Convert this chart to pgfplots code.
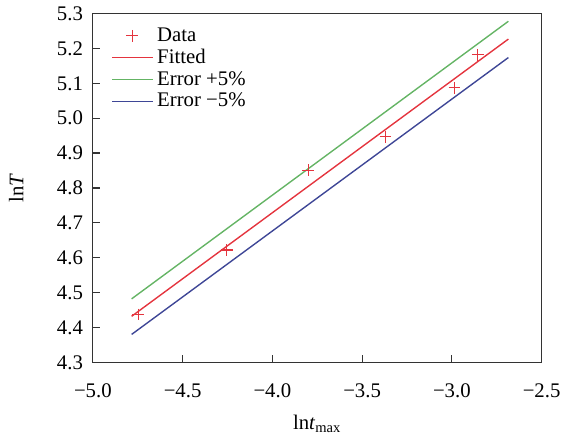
\documentclass[border=0pt]{standalone}
\usepackage{pgfplots}
\pgfplotsset{compat=1.18}
\usepackage{fontspec}
\setmainfont{Liberation Serif}
\definecolor{cred}{RGB}{228,52,62}
\definecolor{cgreen}{RGB}{100,180,100}
\definecolor{cblue}{RGB}{62,70,150}
\pgfplotsset{lineleg/.style={legend image code/.code={\draw[#1, line width=0.7pt] (0,0) -- (0.72cm,0);}}}
\pgfplotsset{markleg/.style={legend image code/.code={\draw[#1, line width=0.55pt] plot[mark=+, mark size=3pt] coordinates {(0.36cm,0)};}}}
\begin{document}
\begin{tikzpicture}
\begin{axis}[
  scale only axis,
  width=227pt, height=176.4pt,
  xmin=-5, xmax=-2.5, ymin=4.3, ymax=5.3,
  xtick={-5,-4.5,-4,-3.5,-3,-2.5},
  xticklabels={−5.0,−4.5,−4.0,−3.5,−3.0,−2.5},
  ytick={4.3,4.4,4.5,4.6,4.7,4.8,4.9,5.0,5.1,5.2,5.3},
  yticklabels={4.3,4.4,4.5,4.6,4.7,4.8,4.9,5.0,5.1,5.2,5.3},
  xtick pos=bottom, ytick pos=left,
  tick align=inside,
  major tick length=3.5pt,
  axis line style={line width=0.6pt, black!80},
  every tick/.style={line width=0.6pt, black!80},
  tick label style={font=\fontsize{10.5}{12}\selectfont},
  yticklabel style={xshift=-1.5pt},
  xticklabel style={yshift=-7.5pt},
  label style={font=\fontsize{10.5}{12}\selectfont},
  xlabel={ln\textit{t}\textsubscript{max}},
  xlabel style={yshift=-1.5pt},
  ylabel={ln\textit{T}},
  ylabel style={inner ysep=4.5pt, yshift=9pt},
  legend cell align=left,
  legend style={draw=none, fill=none, at={(0.036,0.978)}, anchor=north west,
    font=\fontsize{10.5}{12}\selectfont, row sep=-1.5pt, inner sep=1pt},
]
\addplot[only marks, mark=+, mark size=3pt, color=cred, mark options={color=cred}, line width=0.55pt, markleg=cred] coordinates {
  (-4.747,4.437) (-4.255,4.622) (-3.80,4.851) (-3.370,4.947) (-2.985,5.087) (-2.856,5.182)
};
\addlegendentry{Data}
\addplot[cred, line width=0.7pt, lineleg=cred] coordinates {(-4.784,4.432) (-2.685,5.227)};
\addlegendentry{Fitted}
\addplot[cgreen, line width=0.7pt, lineleg=cgreen] coordinates {(-4.784,4.482) (-2.685,5.278)};
\addlegendentry{Error +5\%}
\addplot[cblue, line width=0.7pt, lineleg=cblue] coordinates {(-4.784,4.380) (-2.685,5.174)};
\addlegendentry{Error −5\%}
\end{axis}
\end{tikzpicture}
\end{document}
